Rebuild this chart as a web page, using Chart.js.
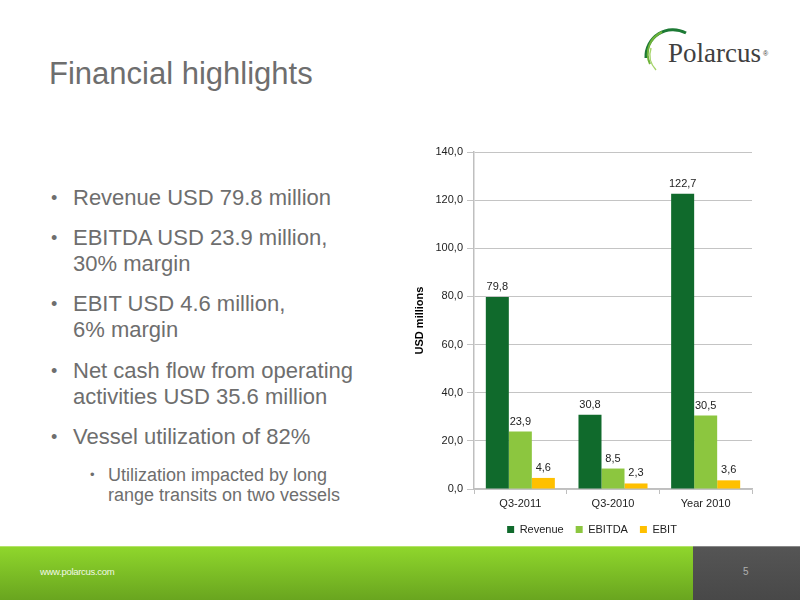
<!DOCTYPE html>
<html>
<head>
<meta charset="utf-8">
<script src="https://cdn.jsdelivr.net/npm/chart.js@4.4.1/dist/chart.umd.min.js"></script>
<style>
  html, body { margin: 0; padding: 0; background: #fff; }
  body { width: 800px; height: 600px; position: relative; overflow: hidden; font-family: "Liberation Sans", Arial, sans-serif; }
  .abs { position: absolute; white-space: nowrap; }
  .title { left: 49px; top: 56px; font-size: 31px; line-height: 36px; color: #6e6e6e; }
  .bul { left: 73px; font-size: 22px; line-height: 26.3px; color: #6e6e6e; }
  .bul::before { content: "\2022"; position: absolute; left: -22px; font-size: 18px; }
  .sub { left: 108px; top: 465px; font-size: 18px; line-height: 20px; color: #6e6e6e; }
  .sub::before { content: "\2022"; position: absolute; left: -18px; font-size: 13px; }
  #wrap { position: absolute; left: 400px; top: 140px; width: 362px; height: 405px; }
  .footer { position: absolute; left: 0; top: 546px; width: 693px; height: 54px;
    background: linear-gradient(#8fd62c, #69a51f); border-top: 1px solid #b4e36a; box-sizing: border-box; }
  .pagebox { position: absolute; left: 693px; top: 546px; width: 107px; height: 54px; background: linear-gradient(#555, #484848);
    border-top: 1px solid #888; box-sizing: border-box; }
  .url { left: 40px; top: 566px; font-size: 9.5px; color: #f2f8e6; letter-spacing: -0.3px; }
  .pnum { left: 743px; top: 566px; font-size: 10px; color: #b0b0b0; }
  .logo { left: 668px; top: 38px; font-family: "Liberation Serif", "DejaVu Serif", serif; font-size: 27px; line-height: 30px; color: #404040; }
  .reg { left: 763px; top: 50px; font-size: 7px; color: #404040; }
</style>
</head>
<body>
<div class="abs title">Financial highlights</div>

<div class="abs bul" style="top:185px">Revenue USD 79.8 million</div>
<div class="abs bul" style="top:225px">EBITDA USD 23.9 million,<br>30% margin</div>
<div class="abs bul" style="top:291px">EBIT USD 4.6 million,<br>6% margin</div>
<div class="abs bul" style="top:357.5px">Net cash flow from operating<br>activities USD 35.6 million</div>
<div class="abs bul" style="top:424px">Vessel utilization of 82%</div>
<div class="abs sub">Utilization impacted by long<br>range transits on two vessels</div>

<svg class="abs" style="left:0;top:0" width="800" height="100">
  <path d="M646 58 A27 27 0 0 1 686 33" fill="none" stroke="#1d7a35" stroke-width="3"/>
  <path d="M650 64 A24 24 0 0 1 662 32" fill="none" stroke="#6fb33a" stroke-width="2"/>
  <path d="M656 70 A22 22 0 0 1 651 48" fill="none" stroke="#a6d46a" stroke-width="1.5"/>
</svg>
<div class="abs logo">Polarcus</div>
<div class="abs reg">&reg;</div>

<div id="wrap"><canvas id="chart"></canvas></div>

<div class="footer"></div>
<div class="pagebox"></div>
<div class="abs url">www.polarcus.com</div>
<div class="abs pnum">5</div>

<script>
const categories = ['Q3-2011', 'Q3-2010', 'Year 2010'];
const revenue = [79.8, 30.8, 122.7];
const ebitda = [23.9, 8.5, 30.5];
const ebit = [4.6, 2.3, 3.6];
const yTicks = [0, 20, 40, 60, 80, 100, 120, 140];

function comma(v) {
  return Number(v).toFixed(1).replace('.', ',');
}

// value labels above each bar
const barLabels = {
  id: 'barLabels',
  afterDatasetsDraw(chart) {
    const ctx = chart.ctx;
    ctx.save();
    ctx.font = '11px "Liberation Sans", Arial, sans-serif';
    ctx.fillStyle = '#222';
    ctx.textAlign = 'center';
    ctx.textBaseline = 'middle';
    chart.data.datasets.forEach((ds, i) => {
      chart.getDatasetMeta(i).data.forEach((bar, j) => {
        ctx.fillText(comma(ds.data[j]), bar.x, bar.y - 10);
      });
    });
    ctx.restore();
  }
};

// legend sits a bit right of the canvas centre in the original
const legendShift = {
  id: 'legendShift',
  afterLayout(chart) {
    if (!chart.legend) return;
    chart.legend.left += 16;
    chart.legend.right += 16;
  }
};

new Chart(document.getElementById('chart'), {
  type: 'bar',
  data: {
    labels: categories,
    datasets: [
      { label: 'Revenue', data: revenue, backgroundColor: '#106a2c' },
      { label: 'EBITDA', data: ebitda, backgroundColor: '#8cc63f' },
      { label: 'EBIT', data: ebit, backgroundColor: '#ffc000' }
    ]
  },
  options: {
    responsive: true,
    maintainAspectRatio: false,
    animation: false,
    categoryPercentage: 0.745,
    barPercentage: 1.0,
    layout: { padding: { top: 12, right: 10, bottom: 0, left: 0 } },
    plugins: {
      tooltip: { enabled: false },
      legend: {
        position: 'bottom',
        labels: {
          boxWidth: 7,
          boxHeight: 7,
          padding: 12,
          color: '#222',
          font: { family: '"Liberation Sans", Arial, sans-serif', size: 11 }
        }
      }
    },
    scales: {
      x: {
        grid: { drawOnChartArea: false, color: '#bfbfbf', tickLength: 5, offset: true },
        border: { color: '#bfbfbf', width: 1.5 },
        ticks: { color: '#222', padding: 3, font: { family: '"Liberation Sans", Arial, sans-serif', size: 11 } },
        afterFit(scale) { scale.height = 23; }
      },
      y: {
        min: 0,
        max: 140,
        afterBuildTicks(scale) { scale.ticks = yTicks.map((v) => ({ value: v })); },
        grid: { color: '#c4c4c4', tickLength: 7 },
        border: { color: '#bfbfbf', width: 1.5 },
        ticks: {
          color: '#222',
          padding: 4,
          font: { family: '"Liberation Sans", Arial, sans-serif', size: 11 },
          callback: (v) => comma(v)
        },
        title: {
          display: true,
          text: 'USD millions',
          color: '#000',
          padding: { top: 13, bottom: 0 },
          font: { family: '"Liberation Sans", Arial, sans-serif', size: 11, weight: 'bold' }
        },
        afterFit(scale) { scale.width = 74; }
      }
    }
  },
  plugins: [barLabels, legendShift]
});
</script>
</body>
</html>
